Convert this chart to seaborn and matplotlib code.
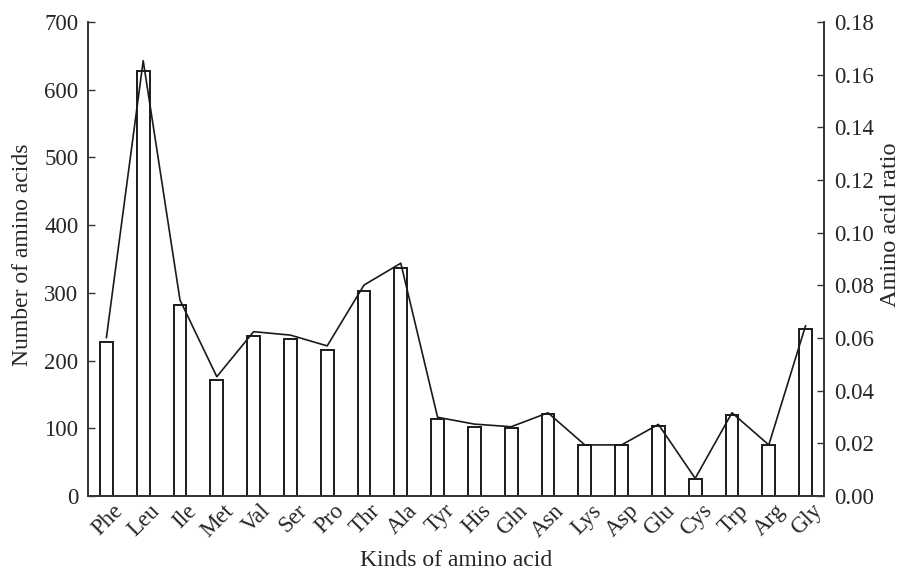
import matplotlib
matplotlib.use("Agg")
import matplotlib.pyplot as plt
import matplotlib.transforms as mtransforms
import seaborn as sns
import pandas as pd

categories = ["Phe", "Leu", "Ile", "Met", "Val", "Ser", "Pro", "Thr", "Ala", "Tyr",
              "His", "Gln", "Asn", "Lys", "Asp", "Glu", "Cys", "Trp", "Arg", "Gly"]
counts = [227, 628, 282, 172, 237, 232, 215, 303, 336, 113,
          102, 101, 121, 75, 75, 103, 25, 120, 75, 246]
ratios = [0.0601, 0.1653, 0.0744, 0.0453, 0.0624, 0.0611, 0.0570, 0.0801, 0.0884, 0.0299,
          0.0273, 0.0263, 0.0316, 0.0194, 0.0194, 0.0272, 0.0067, 0.0316, 0.0194, 0.0647]
left_ticks = [0, 100, 200, 300, 400, 500, 600, 700]
right_ticks = [0.00, 0.02, 0.04, 0.06, 0.08, 0.10, 0.12, 0.14, 0.16, 0.18]

df = pd.DataFrame({"kind": categories, "count": counts, "ratio": ratios})

sns.set_theme(style="ticks")
plt.rcParams["font.family"] = ["Liberation Serif", "DejaVu Serif"]
plt.rcParams["font.size"] = 12

fig = plt.figure(figsize=(9.04, 5.70), dpi=100)
ax = fig.add_axes([88 / 904, 74 / 570, (824 - 88) / 904, (496 - 22) / 570])

sns.barplot(data=df, x="kind", y="count", color="white", edgecolor="#1a1a1a",
            linewidth=1.4, width=0.35, ax=ax)
for p in ax.patches:
    p.set_facecolor("white")

ax2 = ax.twinx()
sns.lineplot(data=df, x="kind", y="ratio", sort=False, color="#1a1a1a",
             linewidth=1.2, ax=ax2)

ax.set_xlim(-0.5, len(categories) - 0.5)
ax.set_ylim(0, 700)
ax2.set_ylim(0, 0.18)
ax.set_yticks(left_ticks)
ax.set_yticklabels([str(t) for t in left_ticks], fontsize=16.5)
ax2.set_yticks(right_ticks)
ax2.set_yticklabels([f"{t:.2f}" for t in right_ticks], fontsize=16.5)

ax.set_xticks(range(len(categories)))
ax.set_xticklabels(categories, rotation=45, ha="right", rotation_mode="anchor", fontsize=16.5)
ax.tick_params(axis="x", length=0, pad=3)
offset = mtransforms.ScaledTranslation(6 / 100, 0 / 100, fig.dpi_scale_trans)
for lab in ax.get_xticklabels():
    lab.set_transform(lab.get_transform() + offset)

ax.tick_params(axis="y", direction="in", length=5, width=1, pad=7, color="#333333")
ax2.tick_params(axis="y", direction="in", length=5, width=1, pad=7, color="#333333")

ax.set_xlabel("Kinds of amino acid", fontsize=17, labelpad=6)
ax.set_ylabel("Number of amino acids", fontsize=17, labelpad=6)
ax.yaxis.set_label_coords(-0.075, 0.51)
ax2.set_ylabel("Amino acid ratio", fontsize=17.5)
ax2.yaxis.set_label_coords(1.076, 0.572)

for a in (ax, ax2):
    a.spines["top"].set_visible(False)
    for s in ("left", "right", "bottom"):
        a.spines[s].set_color("#333333")
        a.spines[s].set_linewidth(1.2)
ax.spines["right"].set_visible(True)
ax2.spines["left"].set_visible(True)
ax.grid(False)
ax2.grid(False)

fig.savefig("out.png", dpi=100, facecolor="white")
